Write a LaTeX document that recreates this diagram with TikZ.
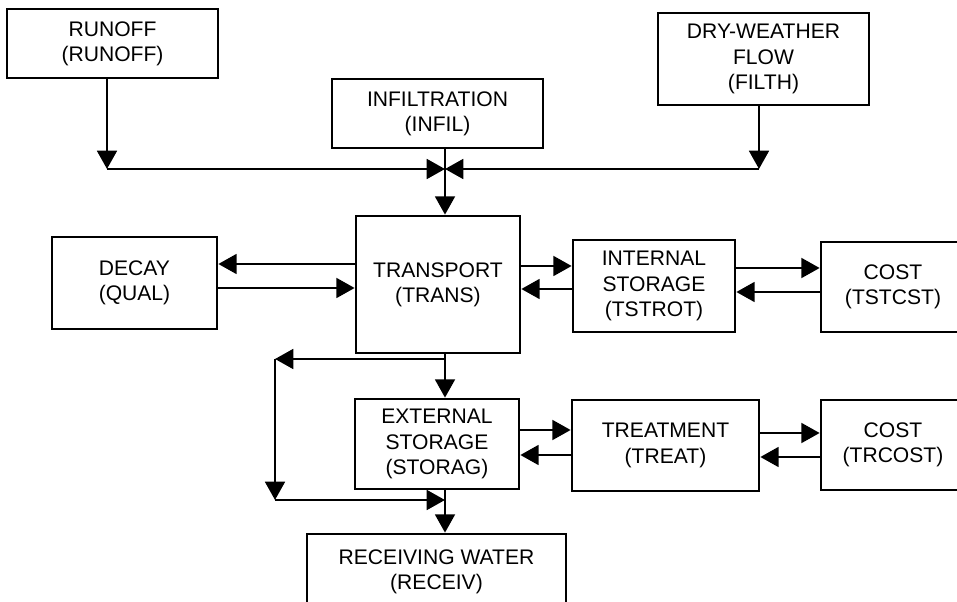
\documentclass[tikz,border=0pt]{standalone}
\usepackage{fontspec}
\setmainfont{Liberation Sans}
\usepackage{tikz}
\usetikzlibrary{arrows.meta}

\begin{document}
\begin{tikzpicture}[
    block/.style={draw, line width=1.9pt, align=center, inner sep=0pt,
                  font=\fontsize{15}{18}\selectfont},
    arr/.style={-{Triangle[length=13pt, width=14pt]}, line width=1.9pt},
    ln/.style={line width=1.9pt}
  ]
    \clip (0,0) rectangle (23.925,-15.05);
    % input blocks
    \node[block, minimum width=5.275cm, minimum height=1.725cm] (runoff)
      at (2.8125,-1.0875) {RUNOFF\\(RUNOFF)};
    \node[block, minimum width=5.275cm, minimum height=1.725cm] (infil)
      at (10.9375,-2.8375) {INFILTRATION\\(INFIL)};
    \node[block, minimum width=5.275cm, minimum height=2.3cm] (filth)
      at (19.0875,-1.475) {DRY-WEATHER\\FLOW\\(FILTH)};
    % transport row
    \node[block, minimum width=4.125cm, minimum height=2.3cm] (qual)
      at (3.3625,-7.075) {DECAY\\(QUAL)};
    \node[block, minimum width=4.1cm, minimum height=3.425cm] (trans)
      at (10.95,-7.1125) {TRANSPORT\\(TRANS)};
    \node[block, minimum width=4.05cm, minimum height=2.3cm] (tstrot)
      at (16.35,-7.15) {INTERNAL\\STORAGE\\(TSTROT)};
    \node[block, minimum width=3.6cm, minimum height=2.25cm] (tstcst)
      at (22.325,-7.175) {COST\\(TSTCST)};
    % storage row
    \node[block, minimum width=4.1cm, minimum height=2.25cm] (storag)
      at (10.925,-11.1) {EXTERNAL\\STORAGE\\(STORAG)};
    \node[block, minimum width=4.675cm, minimum height=2.275cm] (treat)
      at (16.6375,-11.1375) {TREATMENT\\(TREAT)};
    \node[block, minimum width=3.6cm, minimum height=2.25cm] (trcost)
      at (22.325,-11.125) {COST\\(TRCOST)};
    \node[block, minimum width=6.475cm, minimum height=1.9cm] (receiv)
      at (10.9125,-14.3) {RECEIVING WATER\\(RECEIV)};

    % junctions and bends
    \coordinate (jn) at (11.125,-4.225);
    \coordinate (ro) at (2.675,-4.225);
    \coordinate (dw) at (18.975,-4.225);
    \coordinate (fb) at (11.125,-8.975);
    \coordinate (fbL) at (6.875,-8.975);
    \coordinate (fbB) at (6.875,-12.5);
    \coordinate (mg) at (11.125,-12.5);

    % inflows to transport
    \draw[arr] (runoff.south -| ro) -- (ro);
    \draw[arr] (ro) -- (jn);
    \draw[arr] (filth.south -| dw) -- (dw);
    \draw[arr] (dw) -- (jn);
    \draw[ln] (infil.south -| jn) -- (jn);
    \draw[arr] (jn) -- (trans.north -| jn);

    % decay and internal storage
    \draw[arr] (trans.west |- 0,-6.6) -- (qual.east |- 0,-6.6);
    \draw[arr] (qual.east |- 0,-7.2) -- (trans.west |- 0,-7.2);
    \draw[arr] (trans.east |- 0,-6.65) -- (tstrot.west |- 0,-6.65);
    \draw[arr] (tstrot.west |- 0,-7.225) -- (trans.east |- 0,-7.225);
    \draw[arr] (tstrot.east |- 0,-6.7) -- (tstcst.west |- 0,-6.7);
    \draw[arr] (tstcst.west |- 0,-7.3) -- (tstrot.east |- 0,-7.3);

    % bypass round external storage
    \draw[arr] (trans.south -| fb) -- (storag.north -| fb);
    \draw[arr] (fb) -- (fbL);
    \draw[arr] (fbL) -- (fbB);
    \draw[arr] (fbB) -- (mg);
    \draw[arr] (storag.south -| mg) -- (receiv.north -| mg);

    % treatment and cost
    \draw[arr] (storag.east |- 0,-10.75) -- (treat.west |- 0,-10.75);
    \draw[arr] (treat.west |- 0,-11.375) -- (storag.east |- 0,-11.375);
    \draw[arr] (treat.east |- 0,-10.825) -- (trcost.west |- 0,-10.825);
    \draw[arr] (trcost.west |- 0,-11.425) -- (treat.east |- 0,-11.425);
  \end{tikzpicture}
\end{document}
